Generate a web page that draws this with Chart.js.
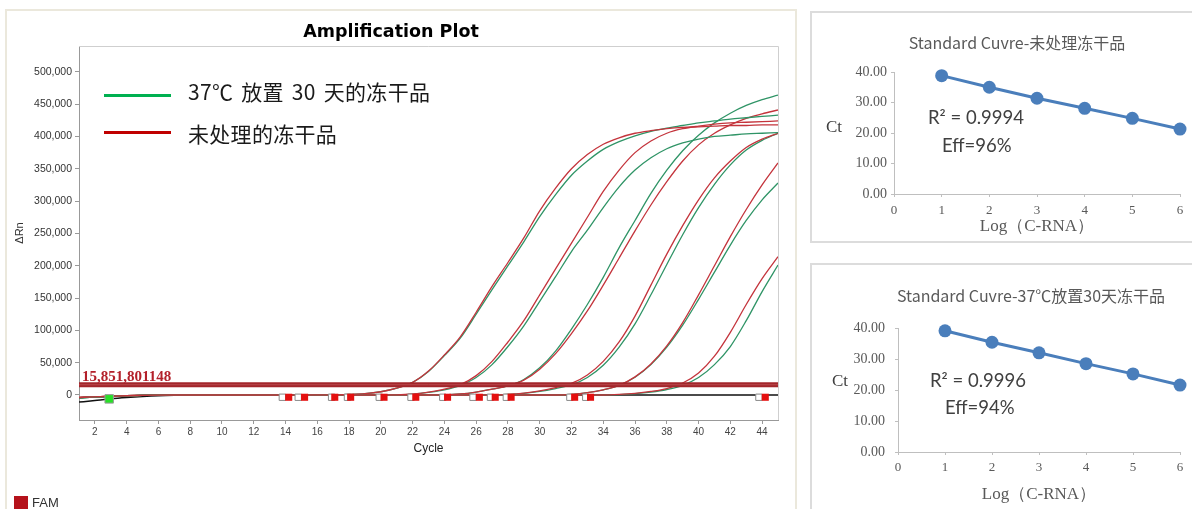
<!DOCTYPE html>
<html>
<head>
<meta charset="utf-8">
<script src="https://cdn.jsdelivr.net/npm/chart.js@4.4.0/dist/chart.umd.min.js"></script>
<style>
  body { margin: 0; width: 1192px; height: 509px; overflow: hidden; background: #fff; position: relative; font-family: "Liberation Sans", Arial, sans-serif; }
  .abs { position: absolute; white-space: nowrap; }
  #leftFrame { left: 5px; top: 9px; width: 788px; height: 530px; border: 2px solid #ebe8dc; }
  #rtFrame { left: 810px; top: 11px; width: 420px; height: 228px; border: 2px solid #dcdcdc; }
  #rbFrame { left: 810px; top: 263px; width: 420px; height: 300px; border: 2px solid #dcdcdc; }
  #ampTitle { left: 391px; top: 31px; transform: translate(-50%, -50%); font: bold 17.5px "DejaVu Sans", sans-serif; color: #000; }
  .legLine { height: 3px; width: 67px; left: 104px; }
  .legText { left: 188px; font: 21px "Noto Sans CJK SC", sans-serif; color: #1a1a1a; line-height: 1; transform: translateY(-50%); }
  .stdTitle { font: 16px "Noto Sans CJK SC", sans-serif; color: #595959; transform: translate(-50%, -50%); line-height: 1; }
  .ct { font: 17px "Liberation Serif", serif; color: #404040; transform: translateY(-50%); line-height: 1; }
  .note { font: 18.5px Lato, sans-serif; color: #404040; transform: translateY(-50%); line-height: 1; }
  canvas { position: absolute; }
</style>
</head>
<body>
<div id="leftFrame" class="abs"></div>
<div id="rtFrame" class="abs"></div>
<div id="rbFrame" class="abs"></div>

<canvas id="amp" width="789" height="497" style="left:7px;top:12px"></canvas>
<canvas id="std1" width="380" height="226" style="left:812px;top:13px"></canvas>
<canvas id="std2" width="380" height="244" style="left:812px;top:265px"></canvas>

<div id="ampTitle" class="abs">Amplification Plot</div>
<div class="abs legLine" style="top:94px;background:#00b050"></div>
<div class="abs legText" style="top:91px;word-spacing:3px;letter-spacing:0.3px">37℃ 放置 30 天的冻干品</div>
<div class="abs legLine" style="top:131px;background:#c00000"></div>
<div class="abs legText" style="top:133px;letter-spacing:0.3px">未处理的冻干品</div>

<div class="abs" style="left:14px;top:496px;width:14px;height:14px;background:#b5121b"></div>
<div class="abs" style="left:32px;top:495px;font:13px 'Liberation Sans',Arial;color:#333">FAM</div>

<div class="abs stdTitle" style="left:1017px;top:42px">Standard Cuvre-未处理冻干品</div>
<div class="abs ct" style="left:826px;top:126px">Ct</div>
<div class="abs note" style="left:928px;top:117px">R² = 0.9994</div>
<div class="abs note" style="left:942px;top:145px">Eff=96%</div>

<div class="abs stdTitle" style="left:1031px;top:295px">Standard Cuvre-37℃放置30天冻干品</div>
<div class="abs ct" style="left:832px;top:380px">Ct</div>
<div class="abs note" style="left:930px;top:380px">R² = 0.9996</div>
<div class="abs note" style="left:945px;top:407px">Eff=94%</div>

<script>
// ---- amplification plot data (ΔRn per cycle) ----
const cycles = [1,2,3,4,5,6,7,8,9,10,11,12,13,14,15,16,17,18,19,20,21,22,23,24,25,26,27,28,29,30,31,32,33,34,35,36,37,38,39,40,41,42,43,44,45];
const xTicks = [2,4,6,8,10,12,14,16,18,20,22,24,26,28,30,32,34,36,38,40,42,44];
const yTicks = [0,50000,100000,150000,200000,250000,300000,350000,400000,450000,500000];

// untreated (red)
const red1 = [-4000,-3000,-2000,-1200,-600,-200,0,0,0,0,0,0,0,0,0,100,300,800,2000,5000,10500,19500,37000,62000,90000,128000,168000,205000,243000,285000,320000,350000,372000,388000,398000,405000,409000,412000,414000,415000,416000,417000,417000,418000,418000];
const red2 = [-3800,-2900,-1900,-1100,-500,-150,0,0,0,0,0,0,0,0,0,0,0,0,0,0,200,1500,4500,9000,16000,30000,52000,82000,115000,155000,195000,235000,275000,315000,348000,375000,393000,405000,412000,416000,419000,421000,422000,423000,424000];
const red3 = [-4000,-3000,-2000,-1200,-600,-200,0,0,0,0,0,0,0,0,0,0,0,0,0,0,0,0,0,200,1500,4500,9000,14000,23000,40000,64000,95000,130000,170000,212000,254000,294000,330000,362000,387000,405000,418000,428000,435000,441000];
const red4 = [-3900,-2900,-1900,-1100,-550,-150,0,0,0,0,0,0,0,0,0,0,0,0,0,0,0,0,0,0,0,0,0,1000,3000,6500,11500,18000,31000,52000,82000,122000,170000,218000,262000,302000,336000,362000,383000,396000,405000];
const red5 = [-4100,-3100,-2000,-1200,-600,-200,0,0,0,0,0,0,0,0,0,0,0,0,0,0,0,0,0,0,0,0,0,0,0,0,0,1000,3500,8000,15000,28000,48000,76000,112000,155000,200000,245000,287000,325000,359000];
const red6 = [-4000,-3000,-2000,-1200,-600,-200,0,0,0,0,0,0,0,0,0,0,0,0,0,0,0,0,0,0,0,0,0,0,0,0,0,0,0,0,800,2500,5500,10000,18500,34000,60000,97000,140000,180000,214000];

// 37℃ 30 days (green)
const green1 = [-4500,-3300,-2200,-1300,-700,-250,0,0,0,0,0,0,0,0,0,100,300,800,2000,5000,10500,19500,36500,61000,88000,125000,163000,200000,237000,276000,310000,340000,362000,380000,392000,401000,408000,413000,417000,421000,424000,427000,429000,431000,433000];
const green2 = [-4200,-3100,-2100,-1200,-600,-200,0,0,0,0,0,0,0,0,0,0,0,0,0,0,150,1200,4000,8000,15000,27000,47000,75000,107000,145000,183000,222000,255000,290000,322000,348000,367000,381000,390000,396000,400000,402000,404000,405000,406000];
const green3 = [-4300,-3200,-2100,-1300,-650,-200,0,0,0,0,0,0,0,0,0,0,0,0,0,0,0,0,0,200,1500,4500,9000,14000,24000,42000,68000,102000,140000,182000,228000,270000,312000,348000,378000,402000,421000,436000,448000,457000,464000];
const green4 = [-4400,-3200,-2100,-1300,-650,-200,0,0,0,0,0,0,0,0,0,0,0,0,0,0,0,0,0,0,0,0,0,800,2500,5500,10000,15500,27000,46000,74000,110000,155000,202000,248000,290000,326000,356000,379000,394000,405000];
const green5 = [-4200,-3100,-2000,-1200,-600,-200,0,0,0,0,0,0,0,0,0,0,0,0,0,0,0,0,0,0,0,0,0,0,0,0,0,1000,3500,8000,15000,27500,47000,74000,108000,148000,190000,232000,270000,302000,328000];
const green6 = [-4500,-3300,-2200,-1300,-700,-250,0,0,0,0,0,0,0,0,0,0,0,0,0,0,0,0,0,0,0,0,0,0,0,0,0,0,0,0,600,2000,4500,8500,15000,27000,47000,75000,115000,160000,201000];

// no template control (black)
const ntc = [-11000,-8500,-6000,-4000,-2300,-1000,-300,0,0,0,0,0,0,0,0,0,0,0,0,0,0,0,0,0,0,0,0,0,0,0,0,0,0,0,0,0,0,0,0,0,0,0,0,0,0];

const threshold = 15851.801148;
const thresholdLabel = '15,851,801148';

// baseline start / end markers (cycle positions)
const baseStartMarks = [13.8,14.8,16.9,17.9,19.9,21.9,23.9,25.8,26.9,27.9,31.9,32.9,43.8];
const baseEndMarks = [14.2,15.2,17.1,18.1,20.2,22.2,24.2,26.2,27.2,28.2,32.2,33.2,44.2];
const markLevel = -3500;
const greenMark = [2.9];
const greenMarkLevel = -6000;

// ---- standard curves ----
const logConc = [1,2,3,4,5,6];
const ctUntreated = [38.8,35.0,31.4,28.1,24.8,21.3];
const ct37 = [39.1,35.4,32.0,28.5,25.2,21.6];

Chart.defaults.font.family = '"Liberation Sans", Arial, sans-serif';
Chart.defaults.animation = false;

const redColor = '#c4343c';
const greenColor = '#2f9466';

function pts(vals) { return vals.map((v, i) => ({x: cycles[i], y: v})); }
function curve(vals, color) {
  return { data: pts(vals), borderColor: color, borderWidth: 1.3, pointRadius: 0, cubicInterpolationMode: 'monotone', fill: false };
}

const ampDecor = {
  id: 'ampDecor',
  beforeDatasetsDraw(chart) {
    const {ctx, chartArea: a} = chart;
    ctx.save();
    ctx.strokeStyle = '#cfcfcf';
    ctx.lineWidth = 1;
    ctx.beginPath();
    ctx.moveTo(a.left, a.top + 0.5);
    ctx.lineTo(a.right + 0.5, a.top + 0.5);
    ctx.lineTo(a.right + 0.5, a.bottom);
    ctx.stroke();
    ctx.restore();
  },
  afterDatasetsDraw(chart) {
    const {ctx, chartArea: a, scales: {y}} = chart;
    const py = y.getPixelForValue(threshold);
    ctx.save();
    ctx.strokeStyle = '#a3262b';
    ctx.lineWidth = 5;
    ctx.beginPath();
    ctx.moveTo(a.left, py);
    ctx.lineTo(a.right, py);
    ctx.stroke();
    ctx.strokeStyle = '#b8474b';
    ctx.lineWidth = 1;
    ctx.beginPath();
    ctx.moveTo(a.left, py);
    ctx.lineTo(a.right, py);
    ctx.stroke();
    ctx.fillStyle = '#b3202a';
    ctx.font = 'bold 15px "Liberation Serif", serif';
    ctx.textBaseline = 'alphabetic';
    ctx.fillText(thresholdLabel, a.left + 3, py - 4);
    ctx.restore();
  }
};

new Chart(document.getElementById('amp'), {
  type: 'line',
  data: {
    datasets: [
      { type: 'scatter', data: baseEndMarks.map(c => ({x: c, y: markLevel})), pointStyle: 'rect', pointRadius: 5, pointBackgroundColor: '#e41010', pointBorderColor: '#e41010', pointBorderWidth: 0 },
      { type: 'scatter', data: baseStartMarks.map(c => ({x: c, y: markLevel})), pointStyle: 'rect', pointRadius: 4.5, pointBackgroundColor: '#ffffff', pointBorderColor: '#8a8a8a', pointBorderWidth: 1 },
      { type: 'scatter', data: greenMark.map(c => ({x: c, y: greenMarkLevel})), pointStyle: 'rect', pointRadius: 6, pointBackgroundColor: '#28e028', pointBorderColor: '#9a9a9a', pointBorderWidth: 1 },
      curve(red1, redColor), curve(green1, greenColor),
      curve(red2, redColor), curve(green2, greenColor),
      curve(red3, redColor), curve(green3, greenColor),
      curve(red4, redColor), curve(green4, greenColor),
      curve(red5, redColor), curve(green5, greenColor),
      curve(red6, redColor), curve(green6, greenColor),
      { data: pts(ntc), borderColor: '#111', borderWidth: 1.5, pointRadius: 0, cubicInterpolationMode: 'monotone', fill: false }
    ]
  },
  options: {
    responsive: false,
    devicePixelRatio: 1,
    layout: { padding: { left: 0, top: 34, right: 18, bottom: 49 } },
    plugins: { legend: { display: false }, tooltip: { enabled: false } },
    scales: {
      x: {
        type: 'linear', min: 1, max: 45,
        afterBuildTicks: s => { s.ticks = xTicks.map(v => ({value: v})); },
        afterFit: s => { s.height = 40; },
        grid: { drawOnChartArea: false, tickLength: 4, color: '#999' },
        border: { color: '#999' },
        ticks: { font: { size: 10 }, color: '#444', padding: 2, maxRotation: 0, autoSkip: false },
        title: { display: true, text: 'Cycle', font: { size: 12 }, color: '#222', padding: { top: 0, bottom: 4 } }
      },
      y: {
        min: -38700, max: 540000,
        afterBuildTicks: s => { s.ticks = yTicks.map(v => ({value: v})); },
        afterFit: s => { s.width = 72; },
        grid: { drawOnChartArea: false, tickLength: 4, color: '#999' },
        border: { color: '#999' },
        ticks: { font: { size: 10.5 }, color: '#333', padding: 3, callback: v => v.toLocaleString('en-US') },
        title: { display: true, text: 'ΔRn', font: { size: 11 }, color: '#333', padding: { top: 6, bottom: 0 } }
      }
    }
  },
  plugins: [ampDecor]
});

function stdChart(id, ctVals, pad, yWidth, xHeight, tickPadX, tickPadY) {
  new Chart(document.getElementById(id), {
    type: 'scatter',
    data: {
      datasets: [{
        data: logConc.map((v, i) => ({x: v, y: ctVals[i]})),
        showLine: true, borderColor: '#4a7ebb', borderWidth: 3,
        pointRadius: 6.5, pointBackgroundColor: '#4a7ebb', pointBorderColor: '#4a7ebb', pointBorderWidth: 0,
        clip: false
      }]
    },
    options: {
      responsive: false,
      devicePixelRatio: 1,
      layout: { padding: pad },
      plugins: { legend: { display: false }, tooltip: { enabled: false } },
      scales: {
        x: {
          type: 'linear', min: 0, max: 6,
          afterFit: s => { s.height = xHeight; },
          grid: { drawOnChartArea: false, tickLength: 3, color: '#bfbfbf' },
          border: { color: '#bfbfbf' },
          ticks: { stepSize: 1, font: { family: '"Liberation Serif", serif', size: 13 }, color: '#595959', padding: tickPadX },
          title: { display: true, text: 'Log（C-RNA）', font: { family: '"Liberation Serif", serif', size: 17 }, color: '#595959', padding: { top: 0, bottom: 1 } }
        },
        y: {
          min: 0, max: 40,
          afterFit: s => { s.width = yWidth; },
          grid: { drawOnChartArea: false, tickLength: 3, color: '#bfbfbf' },
          border: { color: '#bfbfbf' },
          ticks: { stepSize: 10, font: { family: '"Liberation Serif", serif', size: 14 }, color: '#595959', padding: tickPadY, callback: v => v.toFixed(2) }
        }
      }
    }
  });
}

stdChart('std1', ctUntreated, { left: 0, top: 59, right: 12, bottom: 1 }, 82, 44, 6, 4);
stdChart('std2', ct37, { left: 0, top: 63, right: 12, bottom: 3 }, 86, 54, 5, 10);
</script>
</body>
</html>
